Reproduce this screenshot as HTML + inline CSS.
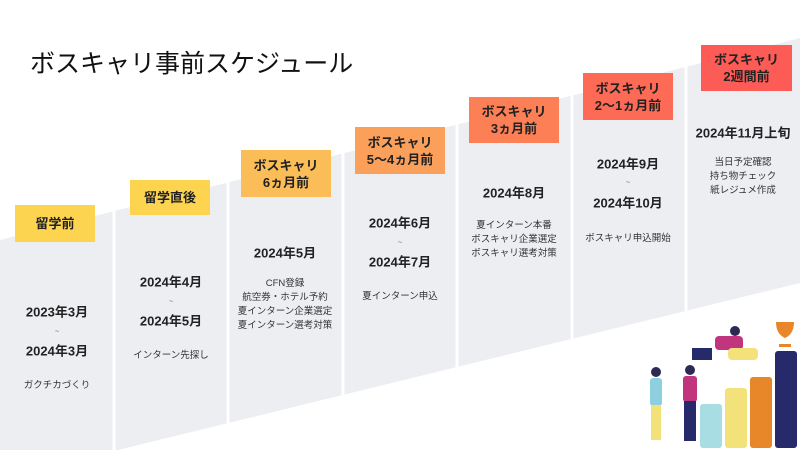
<!DOCTYPE html>
<html style="overflow:hidden;width:800px;height:450px"><head><meta charset="utf-8"><style>
body{margin:0;width:800px;height:450px;overflow:hidden;background:#fff;font-family:"Liberation Sans","Noto Sans CJK JP",sans-serif;color:#222;position:relative}
.t{position:absolute;transform:translate(-50%,-50%);white-space:nowrap;text-align:center}
.d{font-weight:bold;font-size:13px}
.s{font-size:9.5px;line-height:14px;color:#333}
.w{font-size:7px;color:#555}
.lb{position:absolute;display:flex;align-items:center;justify-content:center;text-align:center;font-weight:bold;font-size:13px;line-height:17px;color:#222}
</style></head><body>
<svg width="800" height="450" style="position:absolute;left:0;top:0;display:block">
<polygon points="0,240 800,38 800,283 118,450 0,450" fill="#eceef1"/>
<g stroke="#fff" stroke-width="3">
<line x1="114" y1="0" x2="114" y2="450"/><line x1="228" y1="0" x2="228" y2="450"/><line x1="343" y1="0" x2="343" y2="450"/><line x1="457" y1="0" x2="457" y2="450"/><line x1="572" y1="0" x2="572" y2="450"/><line x1="686" y1="0" x2="686" y2="450"/>
</g>
<rect x="700" y="404" width="22" height="44" rx="3" fill="#a8dde3"/>
<rect x="725" y="388" width="22" height="60" rx="3" fill="#f3e27a"/>
<rect x="750" y="377" width="22" height="71" rx="3" fill="#e8862a"/>
<rect x="775" y="351" width="22" height="97" rx="3" fill="#262a6b"/>
<path d="M776 322 h18 q0 12 -9 16 v6 h6 v3 h-12 v-3 h6 v-6 q-9 -4 -9 -16z" fill="#e8862a"/>
<circle cx="656" cy="372" r="5" fill="#2a2a55"/><rect x="650" y="378" width="12" height="28" rx="3" fill="#8fd0e0"/><rect x="651" y="405" width="10" height="35" fill="#f3e27a"/>
<circle cx="690" cy="370" r="5" fill="#2a2a55"/><rect x="683" y="376" width="14" height="26" rx="3" fill="#c0357d"/><rect x="684" y="401" width="12" height="40" fill="#262a6b"/>
<circle cx="735" cy="331" r="5" fill="#2a2a55"/><rect x="715" y="336" width="28" height="14" rx="4" fill="#c0357d"/><rect x="728" y="348" width="30" height="12" rx="4" fill="#f3e27a"/>
<rect x="692" y="348" width="20" height="12" fill="#262a6b"/>
</svg>
<div style="position:absolute;left:30px;top:44px;font-size:25px;color:#111">ボスキャリ事前スケジュール</div>

<div class="lb" style="left:15px;top:205px;width:80px;height:37px;background:#fdd44f">留学前</div>
<div class="lb" style="left:130px;top:180px;width:80px;height:35px;background:#fdd44f">留学直後</div>
<div class="lb" style="left:241px;top:150px;width:90px;height:47px;background:#fbbd58">ボスキャリ<br>6ヵ月前</div>
<div class="lb" style="left:355px;top:127px;width:90px;height:47px;background:#fba05a">ボスキャリ<br>5〜4ヵ月前</div>
<div class="lb" style="left:469px;top:97px;width:90px;height:46px;background:#fc7f55">ボスキャリ<br>3ヵ月前</div>
<div class="lb" style="left:583px;top:73px;width:90px;height:47px;background:#fd6a55">ボスキャリ<br>2〜1ヵ月前</div>
<div class="lb" style="left:701px;top:45px;width:91px;height:46px;background:#fd5b56">ボスキャリ<br>2週間前</div>

<div class="t d" style="left:57px;top:311px">2023年3月</div><div class="t w" style="left:57px;top:332px">~</div><div class="t d" style="left:57px;top:350px">2024年3月</div><div class="t s" style="left:57px;top:386px">ガクチカづくり</div>
<div class="t d" style="left:171px;top:281px">2024年4月</div><div class="t w" style="left:171px;top:302px">~</div><div class="t d" style="left:171px;top:320px">2024年5月</div><div class="t s" style="left:171px;top:356px">インターン先探し</div>
<div class="t d" style="left:285px;top:252px">2024年5月</div><div class="t s" style="left:285px;top:305px">CFN登録<br>航空券・ホテル予約<br>夏インターン企業選定<br>夏インターン選考対策</div>
<div class="t d" style="left:400px;top:222px">2024年6月</div><div class="t w" style="left:400px;top:243px">~</div><div class="t d" style="left:400px;top:261px">2024年7月</div><div class="t s" style="left:400px;top:297px">夏インターン申込</div>
<div class="t d" style="left:514px;top:192px">2024年8月</div><div class="t s" style="left:514px;top:240px">夏インターン本番<br>ボスキャリ企業選定<br>ボスキャリ選考対策</div>
<div class="t d" style="left:628px;top:163px">2024年9月</div><div class="t w" style="left:628px;top:183px">~</div><div class="t d" style="left:628px;top:202px">2024年10月</div><div class="t s" style="left:628px;top:239px">ボスキャリ申込開始</div>
<div class="t d" style="left:743px;top:132px">2024年11月上旬</div><div class="t s" style="left:743px;top:177px">当日予定確認<br>持ち物チェック<br>紙レジュメ作成</div>
</body></html>
